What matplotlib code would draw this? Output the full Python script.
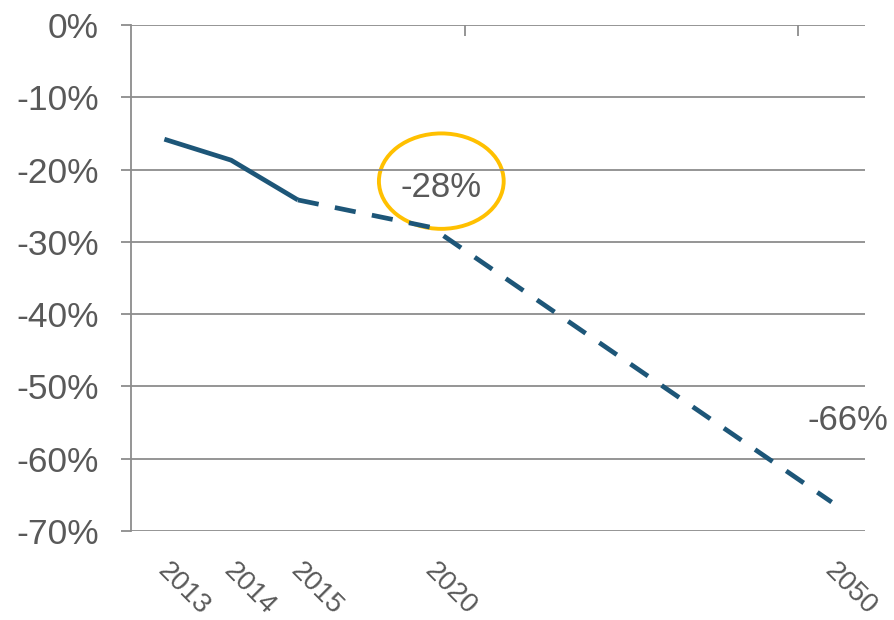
import numpy as np
import matplotlib.pyplot as plt
import matplotlib.transforms as mtransforms
from matplotlib.patches import Ellipse

plt.rcParams['font.family'] = ['Liberation Sans', 'DejaVu Sans']

# categories on the x axis (blank slots keep the spacing)
years = ['2013', '2014', '2015', '', '2020', '', '', '', '', '', '2050']
actual_idx = [0, 1, 2]
actual = [-15.8, -18.7, -24.2]
target_idx = [2, 4, 10]
target = [-24.2, -28.0, -66.0]
yticks = [0, -10, -20, -30, -40, -50, -60, -70]

line_col = '#1D5678'
grid_col = '#8C8C8C'
text_col = '#595959'

fig = plt.figure(figsize=(8.95, 6.2), dpi=100)
ax = fig.add_axes([0.1464, 0.1435, 0.8201, 0.8162])

ax.plot(actual_idx, actual, color=line_col, lw=3.4, solid_capstyle='butt')
ax.plot(target_idx, target, color=line_col, lw=3.4, dashes=(4.5, 3.5))

ax.set_xlim(-0.5, len(years) - 0.5)
ax.set_ylim(-70, 0)

ax.set_yticks(yticks)
ax.set_yticklabels(['%d%%' % v for v in yticks])
ax.yaxis.grid(True, color=grid_col, lw=1.3)
ax.tick_params(axis='y', length=7, width=1.3, color=grid_col,
               labelsize=25.5, pad=16)
for lbl in ax.get_yticklabels():
    lbl.set_color(text_col)

xpos = np.arange(len(years))
ax.set_xticks(xpos)
ax.set_xticklabels(years, rotation=-45, ha='left', va='top', rotation_mode='anchor')
ax.tick_params(axis='x', length=0, labelsize=20, pad=19, labelcolor=text_col)
# nudge the slanted year labels a little to the right
shift = mtransforms.ScaledTranslation(6 / 100, 0, fig.dpi_scale_trans)
for lbl in ax.get_xticklabels():
    lbl.set_transform(lbl.get_transform() + shift)

for s in ['top', 'right', 'bottom']:
    ax.spines[s].set_visible(False)
ax.spines['left'].set_color(grid_col)
ax.spines['left'].set_linewidth(1.3)

# tick marks of the category axis crossing at 0%
top = ax.secondary_xaxis('top')
top.set_xticks([4.5, 9.5])
top.set_xticklabels(['', ''])
top.tick_params(direction='in', length=8, width=1.3, color=grid_col)
top.spines['top'].set_visible(False)

ax.text(4.15, -22.5, '-28%', fontsize=25, color=text_col, ha='center', va='center')
ax.text(10.25, -54.7, '-66%', fontsize=25, color=text_col, ha='center', va='center',
        clip_on=False)
ax.add_patch(Ellipse((4.15, -21.6), 1.87, 13.2, fill=False, edgecolor='#FFC000', lw=2.8))

fig.savefig('out.png', dpi=100)
